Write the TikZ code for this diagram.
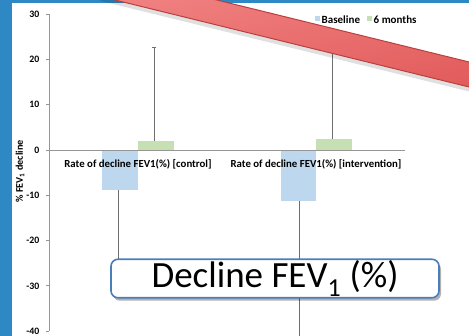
\documentclass[tikz,border=0pt]{standalone}
\usepackage{fontspec}
\setmainfont{Carlito}
\usetikzlibrary{shadows,calc}
\definecolor{bgblue}{RGB}{46,136,196}
\definecolor{axisgray}{RGB}{150,150,150}
\definecolor{errgray}{RGB}{110,110,110}
\definecolor{basecol}{RGB}{189,215,238}
\definecolor{sixcol}{RGB}{198,224,180}
\definecolor{bandfill}{RGB}{226,92,92}
\definecolor{bandlight}{RGB}{242,132,132}
\definecolor{banddraw}{RGB}{186,64,62}
\definecolor{boxblue}{RGB}{74,126,187}
\tikzset{
  ticklab/.style={font=\bfseries\fontsize{9.8}{11}\selectfont, anchor=east, inner sep=0pt},
  catlab/.style={font=\bfseries\fontsize{10.8}{12}\selectfont, inner sep=0pt},
  leglab/.style={font=\bfseries\fontsize{11}{12}\selectfont, anchor=west, inner sep=0pt},
  axisline/.style={draw=axisgray, line width=0.9pt},
  errline/.style={draw=errgray, line width=0.8pt},
  basebar/.style={fill=basecol},
  sixbar/.style={fill=sixcol},
  callout/.style={draw=boxblue, line width=1.6pt, fill=white, rounded corners=7pt,
    drop shadow={shadow xshift=2pt, shadow yshift=-3pt, opacity=0.3, fill=black}}
}
\begin{document}
\begin{tikzpicture}[x=1pt,y=-1pt]
\useasboundingbox (0,0) rectangle (469,336);
\fill[bgblue] (0,0) rectangle (469,336);
\fill[white] (11.5,3) rectangle (469,336);
% y axis
\draw[axisline] (49,14.1) -- (49,331.2);
\foreach \v/\y in {30/14.1,20/59.4,10/104.7,0/150,-10/195.3,-20/240.6,-30/285.9,-40/331.2}{
  \draw[axisline] (46,\y) -- (49,\y);
  \node[ticklab] (t\v) at (39.5,\y) {\v};
}
% bars
\fill[basebar] (102.3,150) rectangle (138.3,190);
\fill[sixbar] (138.3,141) rectangle (174,150);
\fill[basebar] (280.7,150) rectangle (315.7,200.7);
\fill[sixbar] (315.7,139.3) rectangle (351.7,150);
% x axis
\draw[axisline] (49,150) -- (405,150);
% error bars
\draw[errline] (118.3,190) -- (118.3,290);
\draw[errline] (154.3,141) -- (154.3,47.5);
\draw[errline] (152.3,47.5) -- (156.3,47.5);
\draw[errline] (299,200.7) -- (299,340);
\draw[errline] (332.3,139.3) -- (332.3,40);
% category labels
\node[catlab] (c1) at (138,164) {Rate of decline FEV1(\%) [control]};
\node[catlab] (c2) at (316,164) {Rate of decline FEV1(\%) [intervention]};
% y label
\node[font=\bfseries\fontsize{10.2}{12}\selectfont, rotate=90, inner sep=0pt] (yl) at (20,171.5) {\% FEV\textsubscript{1} decline};
% legend
\fill[basecol] (314.5,16.5) rectangle (319.5,21.5);
\node[leglab] (l1) at (321.5,19.5) {Baseline};
\fill[sixcol] (366.5,16.5) rectangle (371.5,21.5);
\node[leglab] (l2) at (373.5,19.5) {6 months};
% red band
\begin{scope}
\clip (0,0) rectangle (469,336);
\fill[black, opacity=0.12] (100,0.8) -- (500,99.1) -- (500,80) -- (100,-18) -- cycle;
\shade[top color=bandlight, bottom color=bandfill, shading angle=14]
  (100,-3.7) -- (500,94.6) -- (500,69.6) -- (100,-28.7) -- cycle;
\draw[banddraw, line width=1pt] (100,-3.7) -- (500,94.6);
\draw[banddraw, line width=1pt] (100,-28.7) -- (500,69.6);
\end{scope}
% callout
\node[callout, minimum width=328pt, minimum height=38.5pt, inner sep=0pt, font=\fontsize{37}{39}\selectfont] (co) at (275,278.5) {Decline FEV\textsubscript{1} (\%)};
\end{tikzpicture}
\end{document}
